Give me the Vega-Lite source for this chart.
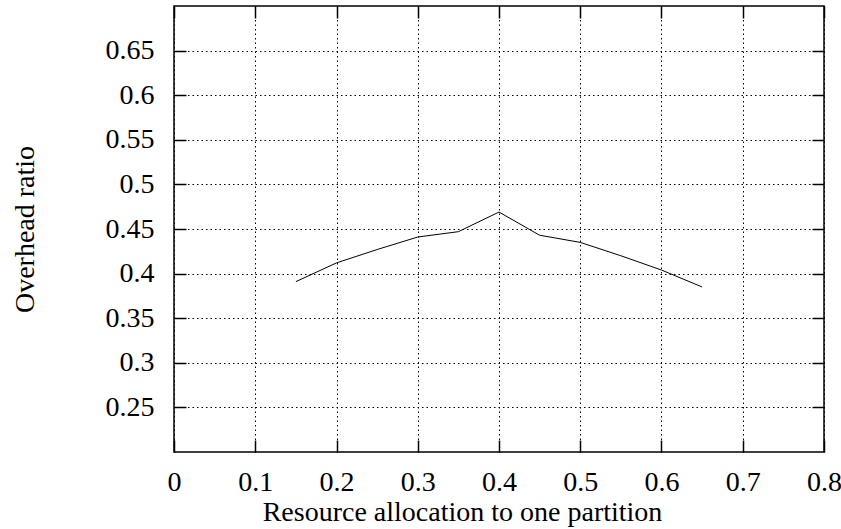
{
  "$schema": "https://vega.github.io/schema/vega-lite/v6.json",
  "autosize": "none",
  "width": 650,
  "height": 446,
  "padding": {"left": 174, "top": 6, "right": 17, "bottom": 77},
  "background": "white",
  "config": {
    "font": "Liberation Serif",
    "view": {"stroke": "black", "strokeWidth": 1.5},
    "axis": {
      "labelFont": "Liberation Serif",
      "titleFont": "Liberation Serif",
      "labelFontSize": 28,
      "titleFontSize": 28,
      "titleFontWeight": "normal",
      "labelColor": "black",
      "titleColor": "black",
      "domain": false,
      "tickColor": "black",
      "tickSize": -12,
      "tickWidth": 1.5
    }
  },
  "resolve": {"axis": {"x": "independent", "y": "independent"}},
  "data": {
    "values": [
      {"x": 0.15, "y": 0.391},
      {"x": 0.2, "y": 0.412},
      {"x": 0.25, "y": 0.427},
      {"x": 0.3, "y": 0.441},
      {"x": 0.35, "y": 0.447},
      {"x": 0.4, "y": 0.469},
      {"x": 0.45, "y": 0.443},
      {"x": 0.5, "y": 0.435},
      {"x": 0.55, "y": 0.420},
      {"x": 0.6, "y": 0.404},
      {"x": 0.65, "y": 0.385}
    ]
  },
  "layer": [
    {
      "mark": {"type": "line", "color": "black", "strokeWidth": 1},
      "encoding": {
        "x": {
          "field": "x", "type": "quantitative",
          "scale": {"domain": [0, 0.8], "nice": false, "zero": false},
          "axis": {"orient": "bottom", "values": [0, 0.1, 0.2, 0.3, 0.4, 0.5, 0.6, 0.7, 0.8], "title": "Resource allocation to one partition", "labelBaseline": "alphabetic", "labelPadding": 50, "labelFlush": false, "format": "~g", "titleX": 288, "titleY": 68, "titleBaseline": "alphabetic", "titleAlign": "center", "grid": true, "gridColor": "black", "gridDash": [1.5, 3], "gridWidth": 1, "gridOpacity": 1}
        },
        "y": {
          "field": "y", "type": "quantitative",
          "scale": {"domain": [0.2, 0.7], "nice": false, "zero": false},
          "axis": {"orient": "left", "values": [0.25, 0.3, 0.35, 0.4, 0.45, 0.5, 0.55, 0.6, 0.65], "title": "Overhead ratio", "labelPadding": 32, "format": "~g", "titleX": -141, "titleY": 223, "titleAngle": -90, "titleBaseline": "alphabetic", "titleAlign": "center", "grid": true, "gridColor": "black", "gridDash": [1.5, 3], "gridWidth": 1, "gridOpacity": 1}
        }
      }
    },
    {
      "mark": {"type": "line", "opacity": 0},
      "encoding": {
        "x": {
          "field": "x", "type": "quantitative",
          "scale": {"domain": [0, 0.8], "nice": false, "zero": false},
          "axis": {"orient": "top", "values": [0, 0.1, 0.2, 0.3, 0.4, 0.5, 0.6, 0.7, 0.8], "labels": false, "title": null, "grid": false}
        },
        "y": {
          "field": "y", "type": "quantitative",
          "scale": {"domain": [0.2, 0.7], "nice": false, "zero": false},
          "axis": {"orient": "right", "values": [0.25, 0.3, 0.35, 0.4, 0.45, 0.5, 0.55, 0.6, 0.65], "labels": false, "title": null, "grid": false}
        }
      }
    }
  ]
}
